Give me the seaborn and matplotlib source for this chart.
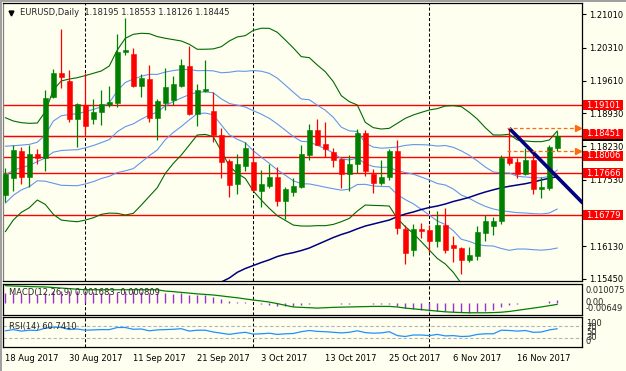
import matplotlib
matplotlib.use("Agg")
import matplotlib.pyplot as plt
import seaborn as sns
import numpy as np
import pandas as pd
from matplotlib.patches import Rectangle
from matplotlib.lines import Line2D
import matplotlib.transforms as mtrans

# ---------------- data ----------------
dates = pd.bdate_range("2017-08-18", "2017-11-23")

opens = [1.1721, 1.1757, 1.1814, 1.1759, 1.1807, 1.1798, 1.1928, 1.1977, 1.1961, 1.1881,
         1.1910, 1.1881, 1.1895, 1.1910, 1.1914, 1.2021, 1.2017, 1.1950, 1.1965, 1.1883,
         1.1915, 1.1921, 1.1950, 1.1992, 1.1891, 1.1940, 1.1898, 1.1847, 1.1792, 1.1743,
         1.1782, 1.1791, 1.1729, 1.1740, 1.1758, 1.1709, 1.1728, 1.1738, 1.1805, 1.1858,
         1.1828, 1.1812, 1.1797, 1.1764, 1.1785, 1.1851, 1.1766, 1.1747, 1.1759, 1.1813,
         1.1649, 1.1604, 1.1649, 1.1647, 1.1623, 1.1658, 1.1616, 1.1609, 1.1584, 1.1593,
         1.1641, 1.1656, 1.1666, 1.1799, 1.1791, 1.1766, 1.1794, 1.1733, 1.1736, 1.18195]
highs = [1.1778, 1.1827, 1.1822, 1.1825, 1.1818, 1.1942, 1.1985, 1.2070, 1.1984, 1.1914,
         1.1977, 1.1922, 1.1942, 1.1951, 1.2059, 1.2093, 1.2031, 1.1975, 1.1994, 1.1922,
         1.1989, 1.1972, 1.2008, 1.2034, 1.1954, 1.2005, 1.1937, 1.1861, 1.1797, 1.1806,
         1.1833, 1.1815, 1.1773, 1.1787, 1.1779, 1.1738, 1.1756, 1.1826, 1.1870, 1.1881,
         1.1874, 1.1819, 1.1799, 1.1805, 1.1860, 1.1857, 1.1776, 1.1794, 1.1817, 1.1836,
         1.1658, 1.1660, 1.1661, 1.1658, 1.1688, 1.1693, 1.1635, 1.1611, 1.1612, 1.1656,
         1.1679, 1.1675, 1.1805, 1.1861, 1.1799, 1.1820, 1.1808, 1.1758, 1.1827, 1.18553]
lows = [1.1706, 1.1729, 1.1744, 1.1738, 1.1785, 1.1772, 1.1925, 1.1945, 1.1875, 1.1822,
        1.1847, 1.1870, 1.1868, 1.1907, 1.1905, 1.2015, 1.1947, 1.1926, 1.1874, 1.1836,
        1.1900, 1.1910, 1.1949, 1.1889, 1.1865, 1.1937, 1.1832, 1.1757, 1.1717, 1.1722,
        1.1772, 1.1730, 1.1696, 1.1735, 1.1698, 1.1670, 1.1719, 1.1736, 1.1794, 1.1825,
        1.1801, 1.1780, 1.1736, 1.1730, 1.1768, 1.1761, 1.1724, 1.1742, 1.1752, 1.1638,
        1.1575, 1.1593, 1.1630, 1.1600, 1.1612, 1.1598, 1.1580, 1.1554, 1.1579, 1.1584,
        1.1623, 1.1637, 1.1660, 1.1784, 1.1756, 1.1763, 1.1722, 1.1714, 1.1731, 1.18126]
closes = [1.1766, 1.1815, 1.1759, 1.1807, 1.1798, 1.1924, 1.1978, 1.1970, 1.1880, 1.1912,
          1.1865, 1.1895, 1.1912, 1.1917, 1.2022, 1.2026, 1.1950, 1.1968, 1.1883, 1.1919,
          1.1947, 1.1954, 1.1994, 1.1891, 1.1942, 1.1943, 1.1847, 1.1791, 1.1742, 1.1785,
          1.1820, 1.1731, 1.1743, 1.1758, 1.1709, 1.1733, 1.1740, 1.1806, 1.1858, 1.1827,
          1.1818, 1.1794, 1.1766, 1.1787, 1.1851, 1.1772, 1.1747, 1.1759, 1.1813, 1.1651,
          1.1598, 1.1649, 1.1644, 1.1624, 1.1658, 1.1605, 1.1609, 1.1584, 1.1595, 1.1642,
          1.1666, 1.1666, 1.1799, 1.1789, 1.1766, 1.1794, 1.1733, 1.1738, 1.1821, 1.18445]

bb_mid = [1.17635, 1.17723, 1.17786, 1.17828, 1.17912, 1.17986, 1.18109, 1.18144, 1.18154, 1.18161,
          1.18200, 1.18249, 1.18309, 1.18375, 1.18540, 1.18646, 1.18705, 1.18803, 1.18891, 1.18951,
          1.19084, 1.19175, 1.19249, 1.19319, 1.19372, 1.19379, 1.19358, 1.19231, 1.19133, 1.19098,
          1.19059, 1.18982, 1.18909, 1.18821, 1.18702, 1.18572, 1.18439, 1.18337, 1.18326, 1.18253,
          1.18182, 1.18091, 1.17972, 1.17944, 1.17986, 1.17867, 1.17807, 1.17790, 1.17793, 1.17716,
          1.17681, 1.17646, 1.17586, 1.17523, 1.17449, 1.17418, 1.17334, 1.17207, 1.17137, 1.17046,
          1.16969, 1.16913, 1.16878, 1.16857, 1.16836, 1.16829, 1.16815, 1.16808, 1.16829, 1.16913]
bb_dev = [0.00600, 0.00521, 0.00472, 0.00444, 0.00405, 0.00488, 0.00654, 0.00732, 0.00747, 0.00758,
          0.00760, 0.00760, 0.00754, 0.00774, 0.00859, 0.00930, 0.00942, 0.00904, 0.00856, 0.00795,
          0.00711, 0.00651, 0.00600, 0.00530, 0.00451, 0.00448, 0.00462, 0.00549, 0.00658, 0.00718,
          0.00751, 0.00845, 0.00904, 0.00947, 0.00965, 0.00949, 0.00932, 0.00891, 0.00886, 0.00845,
          0.00810, 0.00751, 0.00663, 0.00614, 0.00558, 0.00435, 0.00409, 0.00403, 0.00409, 0.00500,
          0.00570, 0.00623, 0.00680, 0.00737, 0.00788, 0.00831, 0.00877, 0.00930, 0.00905, 0.00880,
          0.00828, 0.00779, 0.00796, 0.00814, 0.00765, 0.00758, 0.00758, 0.00761, 0.00768, 0.00821]

ma_start = 27
ma_line = [1.15377, 1.15461, 1.15581, 1.15661, 1.15724, 1.15787, 1.15844, 1.15913, 1.15960, 1.15995,
           1.16039, 1.16092, 1.16166, 1.16239, 1.16313, 1.16376, 1.16429, 1.16496, 1.16555, 1.16597,
           1.16639, 1.16681, 1.16751, 1.16808, 1.16850, 1.16902, 1.16944, 1.16976, 1.17018, 1.17071,
           1.17113, 1.17159, 1.17218, 1.17271, 1.17317, 1.17359, 1.17391, 1.17418, 1.17445, 1.17481,
           1.17523, 1.17561, 1.17593]

macd_main = [5.0, 5.0, 4.8, 4.8, 4.7, 5.4, 6.2, 6.6, 6.4, 6.3,
             5.9, 5.6, 5.5, 5.3, 6.0, 6.5, 6.2, 6.0, 5.4, 5.1,
             5.0, 4.9, 5.1, 4.4, 4.2, 4.0, 3.1, 2.0, 1.0, 0.6,
             0.5, -0.3, -0.8, -1.0, -1.6, -1.8, -1.9, -1.4, -0.6, -0.3,
             -0.1, -0.2, -0.4, -0.4, 0.0, -0.3, -0.6, -0.8, -0.5, -1.7,
             -2.9, -3.3, -3.7, -4.1, -4.1, -4.5, -4.7, -5.0, -5.2, -4.8,
             -4.2, -3.8, -2.4, -1.4, -0.8, -0.2, -0.1, 0.0, 0.8, 1.683]
macd_signal = [9.2, 9.0, 8.9, 8.7, 8.6, 8.5, 8.2, 7.9, 7.6, 7.3,
               7.0, 7.0, 7.0, 7.0, 7.0, 7.0, 7.0, 7.0, 7.0, 7.0,
               6.3, 6.0, 5.6, 5.2, 4.8, 4.5, 4.2, 3.7, 3.2, 2.7,
               2.1, 1.5, 1.0, 0.4, -0.4, -1.3, -2.2, -2.4, -2.6, -2.8,
               -2.6, -2.4, -2.3, -2.2, -2.1, -2.0, -1.9, -1.9, -1.9, -2.2,
               -2.8, -3.2, -3.6, -4.0, -4.4, -4.8, -5.0, -5.2, -5.3, -5.3,
               -5.3, -5.2, -5.0, -4.6, -4.0, -3.4, -2.8, -2.2, -1.5, -0.809]

rsi = [54, 58, 53, 56, 55, 63, 66, 65, 58, 60,
       56, 57, 58, 58, 65, 65, 59, 60, 54, 57,
       58, 59, 61, 53, 56, 56, 50, 46, 42, 46,
       49, 43, 44, 46, 42, 44, 45, 51, 55, 52,
       51, 49, 47, 49, 54, 48, 46, 47, 51, 38,
       35, 40, 40, 38, 42, 37, 38, 35, 36, 42,
       44, 44, 56, 55, 53, 55, 49, 50, 57, 60.741]

levels = [1.19101, 1.18451, 1.18006, 1.17666, 1.16779]
bid = 1.18445
price_ticks = [1.21010, 1.20310, 1.19610, 1.18930, 1.18230, 1.17530, 1.16130, 1.15450]
orange_levels = [1.18610, 1.18133]
trend_x = [63, 72.2]
trend_y = [1.18610, 1.17036]
separators = ["2017-09-01", "2017-10-02", "2017-11-01"]
title = "EURUSD,Daily  1.18195 1.18553 1.18126 1.18445"
macd_label = "MACD(12,26,9) 0.001683 -0.000809"
rsi_label = "RSI(14) 60.7410"
macd_axis_labels = ["0.010075", "0.00", "-0.00649"]
rsi_axis_labels = ["100", "70", "50", "30", "0"]

n = len(dates)
assert all(len(a) == n for a in [opens, highs, lows, closes, bb_mid, bb_dev, macd_main, macd_signal, rsi])

# ---------------- style ----------------
sns.set_theme(style="white")
plt.rcParams["font.family"] = ["DejaVu Sans"]
BG = "#FFFFF0"
CGREEN = "#008000"
BGREEN = "#006A00"
BLUE = "#6495ED"
NAVY = "#000080"
RED = "#FF0000"
ORANGE = "#FF6A10"
PURPLE = "#9932CC"
RSIBLUE = "#1E90FF"
FS = 6.0

W, H = 626, 371
fig = plt.figure(figsize=(W / 100, H / 100), dpi=100)
fig.patch.set_facecolor(BG)

def axes_px(x0, y0, x1, y1):
    a = fig.add_axes([x0 / W, 1 - y1 / H, (x1 - x0) / W, (y1 - y0) / H])
    a.set_facecolor(BG)
    for s in a.spines.values():
        s.set_color("black")
        s.set_linewidth(0.9)
    return a

idx = np.arange(n)
XL = (-0.2875, 72.0875)
sep_idx = [int(np.where(dates == pd.Timestamp(d))[0][0]) for d in separators]

# ---------------- main panel ----------------
ax = axes_px(3, 3, 582, 281)
ax.set_xlim(*XL)
ax.set_ylim(1.15398, 1.21248)

for s in sep_idx:
    ax.axvline(s, color="black", lw=0.75, ls=(0, (3, 2)), zorder=1)

ax.axhline(bid, color="#C0C0C0", lw=1.0, zorder=1)
for lv in levels:
    ax.axhline(lv, color=RED, lw=1.0, zorder=2)

mid = np.array(bb_mid)
dev = np.array(bb_dev)
for k, col in [(2, BGREEN), (1, BLUE), (0, BLUE), (-1, BLUE), (-2, BGREEN)]:
    sns.lineplot(x=idx, y=mid + k * dev, ax=ax, color=col, lw=0.8, legend=False, zorder=3)
sns.lineplot(x=idx[ma_start:], y=ma_line, ax=ax, color=NAVY, lw=1.1, legend=False, zorder=3)

o, h, l, c = map(np.array, (opens, highs, lows, closes))
cols = np.where(c >= o, CGREEN, RED)
ax.vlines(idx, l, h, colors=cols, lw=0.9, zorder=4)
body_b = np.minimum(o, c)
body_h = np.maximum(np.abs(c - o), 0.00006)
ax.bar(idx, body_h, bottom=body_b, width=0.62, color=cols, edgecolor=cols, lw=0.4, zorder=5)

ax.plot(trend_x, trend_y, color=NAVY, lw=2.6, solid_capstyle="butt", zorder=6)
for lv in orange_levels:
    ax.plot([62.7, 71.45], [lv, lv], color=ORANGE, lw=0.9, ls=(0, (3, 2)), zorder=6)
    ax.plot([71.55], [lv], marker=">", ms=4, color=ORANGE, mec=ORANGE, zorder=6, clip_on=False)

ax.set_xticks([])
ax.yaxis.tick_right()
ax.set_yticks(price_ticks)
ax.set_yticklabels([f"{t:.5f}" for t in price_ticks])
ax.tick_params(axis="y", direction="out", length=3, width=0.8, labelsize=FS, pad=2, colors="black")
ax.spines["left"].set_color("#808080")

# right side level boxes
bt = mtrans.blended_transform_factory(ax.transAxes, ax.transData)
ppx = (1.21248 - 1.15398) / 278.0
bw = 40 / 579.0
def level_box(val, text, fc, shift_px=0.0):
    yc = val + shift_px * ppx
    ax.add_patch(Rectangle((1.0015, yc - 5 * ppx), bw, 10 * ppx, transform=bt,
                           fc=fc, ec="none", clip_on=False, zorder=10))
    if text:
        ax.text(1.0015 + 3.5 / 579.0, yc, text, transform=bt, color="white", fontsize=FS,
                va="center", ha="left", clip_on=False, zorder=11)

level_box(bid, "", "black")   # bid label, mostly covered by the 1.18451 box
for lv in levels:
    level_box(lv, f"{lv:.5f}", RED, 2.3 if lv == 1.18451 else (1.5 if lv == 1.18006 else 0))

# ---------------- MACD panel ----------------
am = axes_px(3, 284, 582, 315)
am.set_xlim(*XL)
am.set_ylim(-0.00649, 0.010075)
for s in sep_idx:
    am.axvline(s, color="black", lw=0.75, ls=(0, (3, 2)), zorder=1)
mm = np.array(macd_main) / 1000.0
ms = np.array(macd_signal) / 1000.0
am.vlines(idx, 0, mm, colors=PURPLE, lw=1.0, zorder=2)
sns.lineplot(x=idx, y=ms, ax=am, color=CGREEN, lw=0.9, legend=False, zorder=3)
am.set_xticks([])
am.set_yticks([])
am.text(6 / 579, 0.72, macd_label, transform=am.transAxes, fontsize=FS, va="center", ha="left")

# ---------------- RSI panel ----------------
ar = axes_px(3, 317, 582, 347)
ar.set_xlim(*XL)
ar.set_ylim(0, 100)
for s in sep_idx:
    ar.axvline(s, color="black", lw=0.75, ls=(0, (3, 2)), zorder=1)
for lv in (70, 30):
    ar.axhline(lv, color="#B4B4B4", lw=0.8, ls=(0, (3, 2)), zorder=1)
sns.lineplot(x=idx, y=rsi, ax=ar, color=RSIBLUE, lw=0.9, legend=False, zorder=3)
ar.set_yticks([])
ar.text(6 / 579, 0.7, rsi_label, transform=ar.transAxes, fontsize=FS, va="center", ha="left")

tick_idx = list(range(0, n, 8))
ar.set_xticks(tick_idx)
ar.set_xticklabels([f"{dates[i].day} {dates[i].strftime('%b %Y')}" for i in tick_idx])
for lab in ar.get_xticklabels():
    lab.set_horizontalalignment("left")
ar.tick_params(axis="x", direction="out", length=2.2, width=0.8, labelsize=FS, pad=2.5, colors="black")

# right labels of sub panels
def ftext(x, y, s, **kw):
    fig.text(x / W, 1 - y / H, s, fontsize=FS, va="center", ha="left", **kw)

for s, yy in zip(macd_axis_labels, [290.7, 302.7, 308.3]):
    ftext(586, yy, s)
for s, yy in zip(rsi_axis_labels, [323.0, 327.5, 332.5, 338.0, 341.5]):
    ftext(586, yy, s)

# title
fig.add_artist(Line2D([11 / W], [1 - 12.5 / H], marker="v", ms=3.5, color="black",
                      transform=fig.transFigure))
ftext(20, 12.7, title)

# window frame
fig.add_artist(Rectangle((0, 1 - 2 / H), 1, 2 / H, transform=fig.transFigure, fc="#A0A0A0", ec="none"))
fig.add_artist(Rectangle((0, 0), 2 / W, 1, transform=fig.transFigure, fc="#A0A0A0", ec="none"))

fig.savefig("out.png", dpi=100, facecolor=BG)
